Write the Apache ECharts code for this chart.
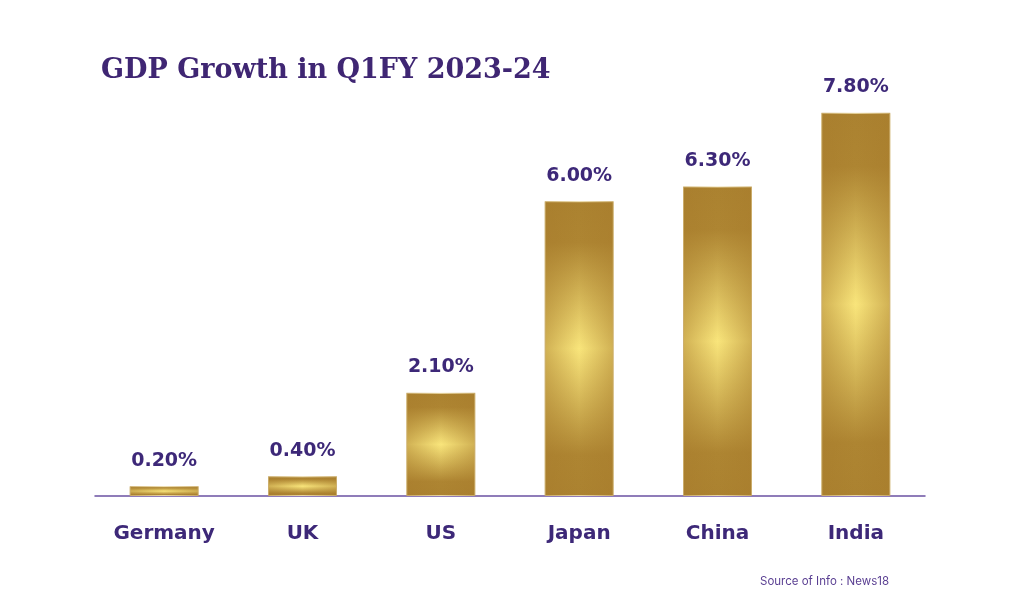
<!DOCTYPE html>
<html><head><meta charset="utf-8">
<script src="https://cdn.jsdelivr.net/npm/echarts@6/dist/echarts.min.js"></script>
<style>html,body{margin:0;padding:0;background:#fff}#c{width:1024px;height:614px}</style>
</head><body><div id="c"></div>
<script>
const categories = ['Germany', 'UK', 'US', 'Japan', 'China', 'India'];
const growth = [0.2, 0.4, 2.1, 6.0, 6.3, 7.8];
const titleText = 'GDP Growth in Q1FY 2023-24';
const sourceText = 'Source of Info : News18';

const chart = echarts.init(document.getElementById('c'));
const purple = '#3d2878';
chart.setOption({
  backgroundColor: '#ffffff',
  animation: false,
  title: [{
    text: titleText, left: 96, top: 52,
    textStyle: { fontFamily: 'DejaVu Serif', fontWeight: 'bold', fontSize: 27, color: '#3f2673' }
  }, {
    text: sourceText, left: 755, top: 571,
    textStyle: { fontFamily: 'Inter', fontWeight: 'normal', fontSize: 11.5, color: '#5a3f92' }
  }],
  grid: { left: 95, right: 99, top: 103, height: 393 },
  xAxis: {
    type: 'category', data: categories,
    axisLine: { lineStyle: { color: '#6b52a3', width: 1.5 } },
    axisTick: { show: false },
    axisLabel: { margin: 28, fontFamily: 'DejaVu Sans', fontWeight: 'bold', fontSize: 20, color: purple }
  },
  yAxis: { type: 'value', min: 0, max: 8, show: false, splitLine: { show: false } },
  series: [{
    type: 'bar', data: growth, barWidth: 69, z: 2,
    itemStyle: {
      borderColor: 'rgba(238,222,170,0.9)', borderWidth: 1,
      color: { type: 'linear', x: 0, y: 0, x2: 0, y2: 1, colorStops: [
        { offset: 0, color: '#ab8230' }, { offset: 0.14, color: '#ae8532' },
        { offset: 0.5, color: '#f9e57b' },
        { offset: 0.86, color: '#ae8532' }, { offset: 1, color: '#ab8230' }
      ] }
    },
    label: {
      show: true, position: 'top', distance: 16,
      formatter: p => p.value.toFixed(2) + '%',
      fontFamily: 'DejaVu Sans', fontWeight: 'bold', fontSize: 19, color: purple
    }
  }, {
    type: 'bar', data: growth, barWidth: 69, barGap: '-100%', z: 3, silent: true,
    itemStyle: {
      color: { type: 'linear', x: 0, y: 0, x2: 1, y2: 0, colorStops: [
        { offset: 0, color: 'rgba(168,124,44,0.5)' },
        { offset: 0.5, color: 'rgba(168,124,44,0)' },
        { offset: 1, color: 'rgba(168,124,44,0.5)' }
      ] }
    }
  }]
});
</script></body></html>
